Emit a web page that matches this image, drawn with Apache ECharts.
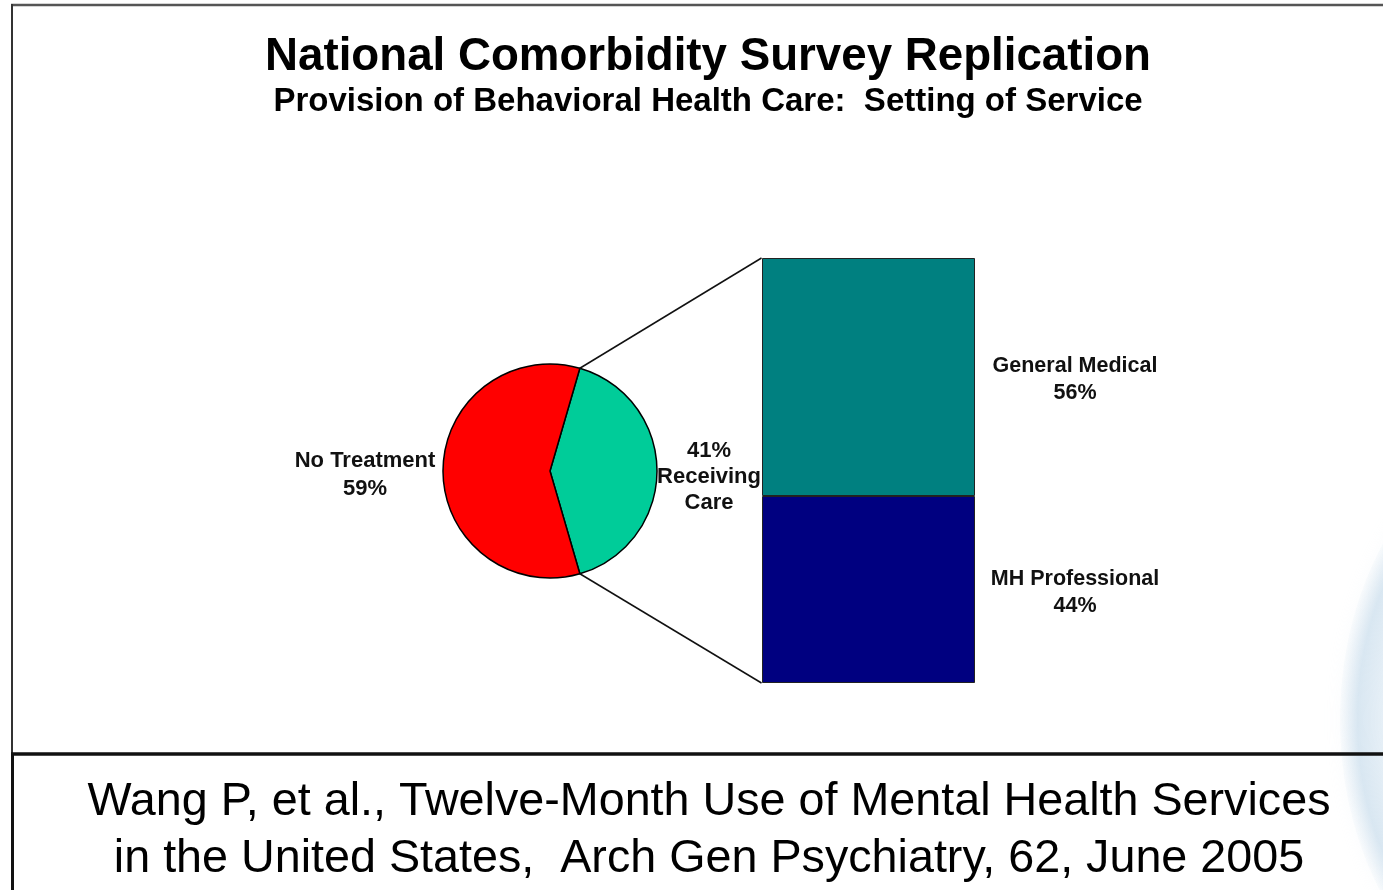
<!DOCTYPE html>
<html>
<head>
<meta charset="utf-8">
<title>National Comorbidity Survey Replication</title>
<script src="https://cdn.jsdelivr.net/npm/echarts@6/dist/echarts.min.js"></script>
<style>
html, body { margin: 0; padding: 0; background: #fff; }
#chart { width: 1383px; height: 890px; }
</style>
</head>
<body>
<div id="chart"></div>
<script>
// pie: everybody in the survey
var pieNames = ['Receiving Care', 'No Treatment'];
var pieValues = [41, 59];
var pieColors = ['#00cc99', '#ff0000'];
// bar: setting of service for those receiving care (bottom first)
var barNames = ['MH Professional', 'General Medical'];
var barValues = [44, 56];
var barColors = ['#000080', '#008080'];

var titleText = 'National Comorbidity Survey Replication';
var subText = 'Provision of Behavioral Health Care:  Setting of Service';
var footerText = 'Wang P, et al., Twelve-Month Use of Mental Health Services\nin the United States,  Arch Gen Psychiatry, 62, June 2005';

var font = 'Liberation Sans, Arial, sans-serif';
var pieCenter = [550, 471];
var pieRadius = 107;
var barBox = { left: 762, top: 258, width: 213, height: 425 };

var pieTotal = pieValues.reduce(function (a, b) { return a + b; }, 0);
// half angle of the "receiving care" slice, it sits centred on 3 o'clock
var halfDeg = pieValues[0] / pieTotal * 180;

var myChart = echarts.init(document.getElementById('chart'));

var barSeries = barNames.map(function (name, i) {
	return {
		type: 'bar',
		name: name,
		stack: 'care',
		barWidth: '100%',
		data: [barValues[i]],
		itemStyle: { color: barColors[i], borderColor: '#222', borderWidth: 1 },
		label: {
			show: true,
			position: ['100%', '50%'],
			offset: [100, 3],
			align: 'center',
			verticalAlign: 'middle',
			formatter: '{a}\n{c}%',
			fontFamily: font,
			fontSize: 21.5,
			fontWeight: 'bold',
			lineHeight: 27,
			color: '#111'
		},
		silent: true
	};
});

var option = {
	animation: false,
	title: [{
		text: titleText,
		subtext: subText,
		left: 708,
		top: 35,
		textAlign: 'center',
		padding: 0,
		itemGap: 4,
		textStyle: { fontFamily: font, fontSize: 45.7, fontWeight: 'bold', color: '#000', lineHeight: 45 },
		subtextStyle: { fontFamily: font, fontSize: 33, fontWeight: 'bold', color: '#000', lineHeight: 33 }
	}, {
		text: footerText,
		left: 709,
		top: 774,
		textAlign: 'center',
		padding: 0,
		textStyle: { fontFamily: font, fontSize: 46.7, fontWeight: 'normal', color: '#000', lineHeight: 57 }
	}],
	grid: {
		left: barBox.left,
		top: barBox.top,
		width: barBox.width,
		height: barBox.height
	},
	xAxis: { type: 'category', data: ['Receiving Care'], show: false },
	yAxis: { type: 'value', min: 0, max: 100, show: false },
	series: [{
		type: 'pie',
		center: pieCenter,
		radius: pieRadius,
		startAngle: halfDeg,
		clockwise: true,
		avoidLabelOverlap: false,
		silent: true,
		itemStyle: { borderColor: '#000', borderWidth: 1.5 },
		label: {
			position: 'outside',
			distanceToLabelLine: 0,
			padding: [12, 0, 0, 0],
			color: '#111',
			formatter: function (p) {
				if (p.dataIndex === 0) {
					return [p.value + '%'].concat(p.name.split(' ')).map(function (s) {
						return '{c|' + s + '}';
					}).join('\n');
				}
				return '{n|' + p.name + '}\n{n|' + p.value + '%}';
			},
			rich: {
				c: { width: 104, align: 'center', fontFamily: font, fontSize: 22, fontWeight: 'bold', lineHeight: 26, color: '#111' },
				n: { width: 144, align: 'center', fontFamily: font, fontSize: 22, fontWeight: 'bold', lineHeight: 28, color: '#111' }
			}
		},
		labelLine: { show: false, length: 0, length2: 0 },
		data: pieNames.map(function (name, i) {
			var item = { name: name, value: pieValues[i], itemStyle: { color: pieColors[i] } };
			if (i === 1) item.label = { distanceToLabelLine: 6, padding: [8, 0, 0, 0] };
			return item;
		})
	}].concat(barSeries)
};
myChart.setOption(option);

// connector lines: pie slice edges to the bar's left corners
var rad = halfDeg * Math.PI / 180;
var edgeTop = [pieCenter[0] + pieRadius * Math.cos(rad), pieCenter[1] - pieRadius * Math.sin(rad)];
var edgeBottom = [pieCenter[0] + pieRadius * Math.cos(rad), pieCenter[1] + pieRadius * Math.sin(rad)];
var barTopY = myChart.convertToPixel({ yAxisIndex: 0 }, 100);
var barBottomY = myChart.convertToPixel({ yAxisIndex: 0 }, 0);
var barLeftX = barBox.left - 0.5;

var lineStyle = { stroke: '#111', lineWidth: 1.5 };

myChart.setOption({
	graphic: [
		// faint globe on the right edge of the slide
		{
			type: 'circle',
			x: 1560, y: 720, scaleY: 1.35,
			shape: { cx: 0, cy: 0, r: 220 },
			z: 0,
			silent: true,
			style: {
				fill: new echarts.graphic.RadialGradient(0.5, 0.5, 0.5, [
					{ offset: 0, color: 'rgba(255,255,255,0)' },
					{ offset: 0.65, color: 'rgba(240,246,251,0.4)' },
					{ offset: 0.92, color: 'rgba(212,228,240,0.8)' },
					{ offset: 1, color: 'rgba(230,239,246,0.2)' }
				]),
				shadowBlur: 16,
				shadowColor: 'rgba(220,232,242,0.7)'
			}
		},
		{ type: 'line', z: 10, silent: true, shape: { x1: edgeTop[0], y1: edgeTop[1], x2: barLeftX, y2: barTopY }, style: lineStyle },
		{ type: 'line', z: 10, silent: true, shape: { x1: edgeBottom[0], y1: edgeBottom[1], x2: barLeftX, y2: barBottomY }, style: lineStyle },
		// slide frame
		{ type: 'line', z: 10, silent: true, shape: { x1: 11, y1: 5, x2: 1383, y2: 5 }, style: { stroke: '#555', lineWidth: 2.5 } },
		{ type: 'line', z: 10, silent: true, shape: { x1: 12, y1: 4, x2: 12, y2: 754 }, style: { stroke: '#333', lineWidth: 2 } },
		{ type: 'line', z: 10, silent: true, shape: { x1: 12.5, y1: 753, x2: 12.5, y2: 890 }, style: { stroke: '#111', lineWidth: 3 } },
		{ type: 'line', z: 10, silent: true, shape: { x1: 11, y1: 754, x2: 1383, y2: 754 }, style: { stroke: '#111', lineWidth: 3.5 } }
	]
});
</script>
</body>
</html>
